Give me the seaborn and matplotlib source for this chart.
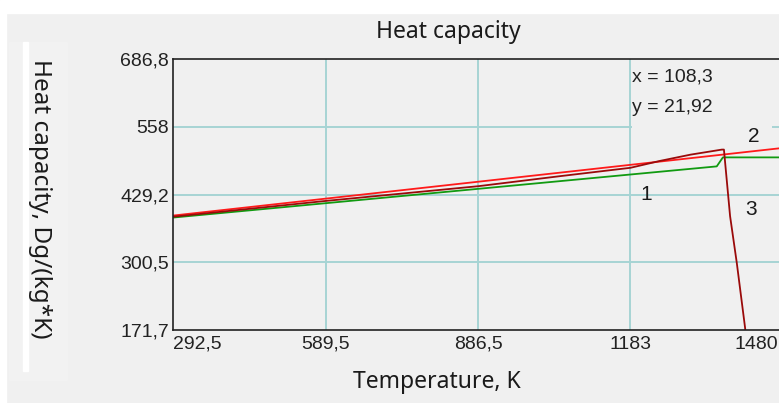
import matplotlib

matplotlib.use("Agg")
import matplotlib.pyplot as plt
import matplotlib.transforms as mtransforms
import numpy as np
import pandas as pd
import seaborn as sns
from matplotlib.patches import Rectangle

# values
temp_1 = [292.5, 1351.0, 1363.0, 1480.0]
cp_1 = [385.4, 482.7, 499.8, 499.8]

temp_2 = [292.5, 1480.0]
cp_2 = [389.2, 517.8]

temp_3 = [292.5, 589.5, 886.5, 1045.0, 1183.0, 1240.0, 1300.0, 1361.0, 1365.0, 1377.0, 1390.0, 1406.0, 1409.0]
cp_3 = [387.0, 417.0, 445.0, 464.0, 480.0, 493.0, 505.0, 514.6, 514.6, 388.0, 299.5, 177.4, 150.0]

x_ticks = [292.5, 589.5, 886.5, 1183.0, 1480.0]
x_ticklabels = ["292,5", "589,5", "886,5", "1183", "1480"]
y_ticks = [171.7, 300.5, 429.2, 558.0, 686.8]
y_ticklabels = ["171,7", "300,5", "429,2", "558", "686,8"]

series = pd.concat(
    [
        pd.DataFrame({"T": temp_1, "cp": cp_1, "curve": "1"}),
        pd.DataFrame({"T": temp_2, "cp": cp_2, "curve": "2"}),
        pd.DataFrame({"T": temp_3, "cp": cp_3, "curve": "3"}),
    ],
    ignore_index=True,
)
palette = {"1": "#119a11", "2": "#ff1a1a", "3": "#9a0a0a"}

sns.set_theme(style="white")
plt.rcParams["font.family"] = ["Liberation Sans", "DejaVu Sans"]

bg = "#f0f0f0"
grid_color = "#a6d4d4"
W, H = 779, 403
fig = plt.figure(figsize=(W / 100, H / 100), dpi=100, facecolor=bg)

# white strips at the top and left of the window capture
fig.patches.append(Rectangle((0, 1 - 13 / H), 1, 13 / H, transform=fig.transFigure, color="white", zorder=0))
fig.patches.append(Rectangle((0, 0), 6 / W, 1, transform=fig.transFigure, color="white", zorder=0))
fig.patches.append(Rectangle((9 / W, 1 - 380 / H), 58 / W, 338 / H, transform=fig.transFigure, color="#f2f2f2", zorder=0))
fig.patches.append(Rectangle((23 / W, 1 - 371 / H), 5 / W, 329 / H, transform=fig.transFigure, color="white", zorder=0))

left, right, top, bottom = 173, 783, 59, 330
ax = fig.add_axes([left / W, 1 - bottom / H, (right - left) / W, (bottom - top) / H])
ax.set_facecolor(bg)

for v in x_ticks[1:-1]:
    ax.axvline(v, color=grid_color, lw=1.4, zorder=0)
for v in y_ticks[1:-1]:
    ax.axhline(v, color=grid_color, lw=1.4, zorder=0)

# opaque box behind the cursor readout hides the gridline
box_y0 = (bottom - 131) / (bottom - top)
ax.add_patch(Rectangle(((632 - left) / (right - left), box_y0), (772 - 632) / (right - left),
                       1 - box_y0, transform=ax.transAxes,
                       facecolor=bg, edgecolor="none", zorder=0.5))

sns.lineplot(
    data=series, x="T", y="cp", hue="curve", palette=palette,
    sort=False, estimator=None, linewidth=1.3, legend=False, ax=ax,
)

ax.set_xlim(x_ticks[0], x_ticks[-1])
ax.set_ylim(y_ticks[0], y_ticks[-1])
ax.set_xticks(x_ticks)
ax.set_xticklabels(x_ticklabels)
ax.set_yticks(y_ticks)
ax.set_yticklabels(y_ticklabels)
ax.tick_params(axis="both", direction="in", length=7, width=1.1, color="#222222",
               labelsize=14, labelcolor="#222222", pad=4)
ax.tick_params(axis="y", pad=3)
xl = ax.get_xticklabels()
xl[0].set_ha("left")
xl[-1].set_ha("right")
xl[-1].set_transform(xl[-1].get_transform() + mtransforms.ScaledTranslation(-5 / 100, 0, fig.dpi_scale_trans))
ax.set_xlabel("")
ax.set_ylabel("")

for side in ["left", "bottom", "top"]:
    ax.spines[side].set_color("#222222")
    ax.spines[side].set_linewidth(1.2)
ax.spines["right"].set_visible(False)

# curve numbers and cursor readout
num_style = dict(fontsize=15, color="#1a1a1a", ha="left", va="center")
ax.text(1201.6, 429.2, "1", **num_style)
ax.text(1411.8, 539.9, "2", **num_style)
ax.text(1406.0, 400.6, "3", **num_style)
ax.text(0.752, 0.933, "x = 108,3", transform=ax.transAxes, fontsize=14, color="#222222", va="center")
ax.text(0.752, 0.822, "y = 21,92", transform=ax.transAxes, fontsize=14, color="#222222", va="center")

label_font = ["Noto Sans", "DejaVu Sans"]
fig.text(448 / W, 1 - 32 / H, "Heat capacity", family=label_font,
         fontsize=16.5, color="#1a1a1a", ha="center", va="center")
fig.text(437 / W, 1 - 382 / H, "Temperature, K", family=label_font,
         fontsize=16.5, color="#1a1a1a", ha="center", va="center")
fig.text(40 / W, 1 - 199 / H, "Heat capacity, Dg/(kg*K)", family=label_font,
         fontsize=17.5, color="#1a1a1a", ha="center", va="center", rotation=-90)

fig.savefig("out.png", dpi=100, facecolor=bg)
